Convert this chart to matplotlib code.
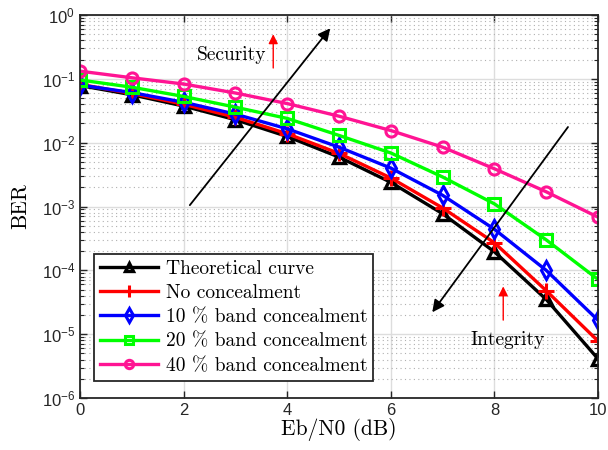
import numpy as np
import matplotlib
matplotlib.use("Agg")
import matplotlib.pyplot as plt

plt.rcParams['font.family'] = ['Liberation Sans', 'DejaVu Sans']
plt.rcParams['mathtext.fontset'] = 'custom'
plt.rcParams['mathtext.rm'] = 'Liberation Sans'
plt.rcParams['mathtext.it'] = 'Liberation Sans:italic'
plt.rcParams['mathtext.default'] = 'regular'

# Eb/N0 (dB)
snr = [0, 1, 2, 3, 4, 5, 6, 7, 8, 9, 10]

# BER curves
ber_theory = [7.86e-2, 5.63e-2, 3.75e-2, 2.29e-2, 1.25e-2, 5.95e-3, 2.39e-3, 7.7e-4, 1.95e-4, 3.5e-5, 4.1e-6]
ber_none = [8.2e-2, 5.9e-2, 4.0e-2, 2.5e-2, 1.38e-2, 6.8e-3, 2.8e-3, 9.5e-4, 2.7e-4, 4.8e-5, 7.8e-6]
ber_10 = [8.0e-2, 6.1e-2, 4.3e-2, 2.8e-2, 1.65e-2, 8.5e-3, 4.0e-3, 1.5e-3, 4.4e-4, 1.0e-4, 1.65e-5]
ber_20 = [9.6e-2, 7.4e-2, 5.3e-2, 3.6e-2, 2.4e-2, 1.3e-2, 6.9e-3, 2.9e-3, 1.1e-3, 3.0e-4, 7.2e-5]
ber_40 = [1.32e-1, 1.04e-1, 8.3e-2, 6.0e-2, 4.1e-2, 2.6e-2, 1.55e-2, 8.5e-3, 3.9e-3, 1.7e-3, 6.8e-4]

labels = ['Theoretical curve', 'No concealment', '10 % band concealment',
          '20 % band concealment', '40 % band concealment']

serif = 'cmr10'

fig = plt.figure(figsize=(6.08, 4.5), dpi=100)
ax = fig.add_axes([0.1316, 0.1156, 0.852, 0.851])

lw = 2.4
ax.semilogy(snr, ber_theory, '-^', color='black', lw=lw, ms=8, mew=2.4,
            mfc='none', label=labels[0])
ax.semilogy(snr, ber_none, '-+', color='#ff0000', lw=lw, ms=11, mew=2.2,
            label=labels[1])
ax.semilogy(snr, ber_10, '-d', color='#0000ff', lw=lw, ms=9, mew=2.2,
            mfc='none', label=labels[2])
ax.semilogy(snr, ber_20, '-s', color='#00ff00', lw=lw, ms=8, mew=2.2,
            mfc='none', label=labels[3])
ax.semilogy(snr, ber_40, '-o', color='#ff1493', lw=lw, ms=8, mew=2.2,
            mfc='none', label=labels[4])

ax.set_xlim(0, 10)
ax.set_ylim(1e-6, 1)
ax.set_xticks([0, 2, 4, 6, 8, 10])
ax.set_yticks([1e-6, 1e-5, 1e-4, 1e-3, 1e-2, 1e-1, 1])

ax.grid(True, which='major', color='#dddddd', lw=1.0, ls='-')
ax.grid(True, which='minor', axis='y', color='#b0b0b0', lw=0.8, ls=(0, (1, 3)))
ax.set_axisbelow(True)

ax.tick_params(which='both', direction='in', top=True, right=True,
               labelsize=12, colors='#262626')
ax.tick_params(which='major', length=5, width=1)
ax.tick_params(which='minor', length=3, width=0.8)
for s in ax.spines.values():
    s.set_color('#262626')
    s.set_linewidth(1.3)

ax.set_xlabel('Eb/N0 (dB)', family=serif, fontsize=15.5, labelpad=0)
ax.set_ylabel('BER', family=serif, fontsize=15.5, labelpad=8)

# big black arrows
ax.annotate('', xy=(4.83, 0.62), xytext=(2.12, 1.05e-3),
            arrowprops=dict(arrowstyle='-|>', color='black', lw=1.3,
                            mutation_scale=18, shrinkA=0, shrinkB=0))
ax.annotate('', xy=(6.80, 2.2e-5), xytext=(9.42, 1.76e-2),
            arrowprops=dict(arrowstyle='-|>', color='black', lw=1.3,
                            mutation_scale=18, shrinkA=0, shrinkB=0))

# small red arrows
ax.annotate('', xy=(3.73, 0.50), xytext=(3.73, 0.148),
            arrowprops=dict(arrowstyle='-|>', color='#ff0000', lw=1.0,
                            mutation_scale=14, shrinkA=0, shrinkB=0))
ax.annotate('', xy=(8.17, 5.6e-5), xytext=(8.17, 1.66e-5),
            arrowprops=dict(arrowstyle='-|>', color='#ff0000', lw=1.0,
                            mutation_scale=14, shrinkA=0, shrinkB=0))

ax.text(2.93, 0.236, 'Security', family=serif, fontsize=14,
        ha='center', va='center')
ax.text(8.26, 8.0e-6, 'Integrity', family=serif, fontsize=14,
        ha='center', va='center')

leg = ax.legend(loc='lower left', bbox_to_anchor=(0.027, 0.045),
                prop={'family': serif, 'size': 14}, fancybox=False,
                framealpha=1, edgecolor='#262626', borderpad=0.3,
                labelspacing=0.33, handlelength=3.0, handletextpad=0.4,
                borderaxespad=0, markerscale=0.75)
leg.get_frame().set_linewidth(1.3)

fig.savefig('out.png', dpi=100)
